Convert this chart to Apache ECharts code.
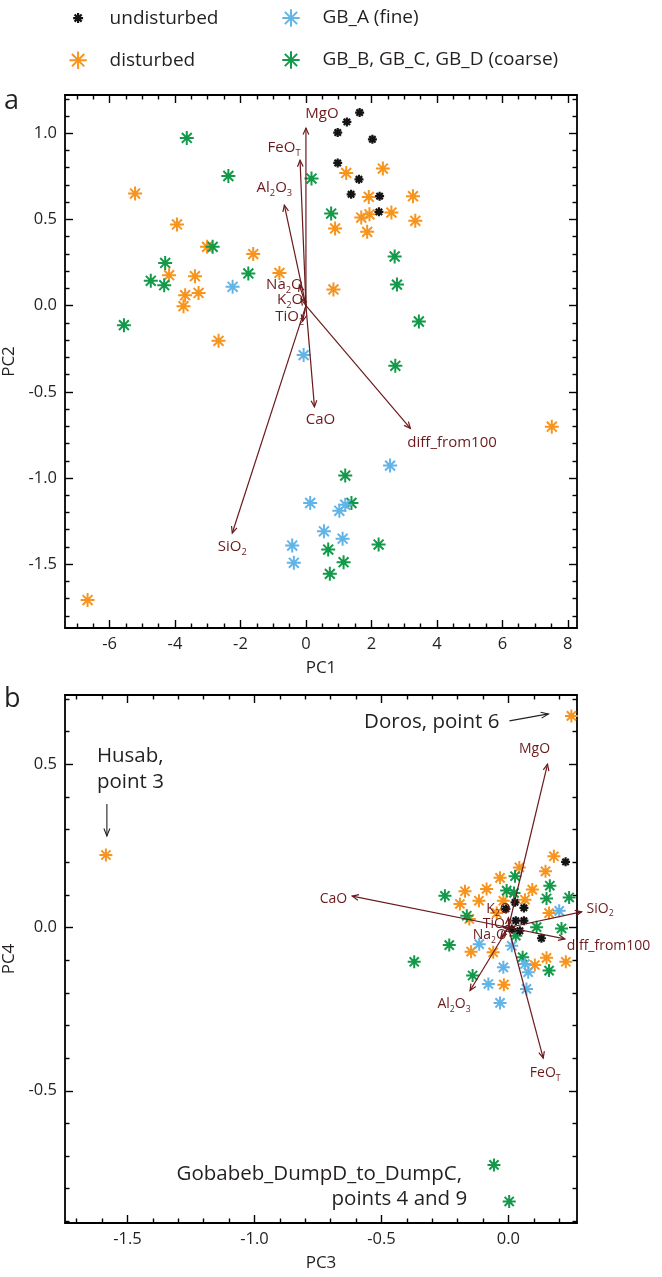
<!DOCTYPE html>
<html>
<head>
<meta charset="utf-8">
<script src="https://cdn.jsdelivr.net/npm/echarts@6.0.0/dist/echarts.min.js"></script>
<style>
html,body{margin:0;padding:0;background:#ffffff;}
#chart{width:662px;height:1277px;}
</style>
</head>
<body>
<div id="chart"></div>
<script>
// ---------------- DATA ----------------
// Panel a : PC1 (x) vs PC2 (y)
const aUndisturbed = [[0.97,1.004],[1.25,1.066],[1.64,1.12],[2.03,0.965],[0.97,0.828],[1.62,0.733],[1.38,0.646],[2.25,0.635],[2.23,0.544]];
const aDisturbed = [[-5.22,0.65],[-3.94,0.471],[-3.02,0.341],[-1.61,0.299],[-4.18,0.177],[-3.39,0.171],[-0.81,0.19],[-3.69,0.061],[-3.28,0.074],[-3.74,-0.003],[-2.67,-0.204],[1.23,0.77],[2.35,0.795],[1.92,0.631],[3.27,0.635],[1.69,0.511],[1.94,0.53],[2.61,0.54],[3.34,0.492],[0.89,0.448],[1.87,0.428],[0.84,0.094],[7.51,-0.702],[-6.67,-1.708]];
const aFine = [[-2.24,0.109],[-0.07,-0.287],[2.57,-0.928],[0.13,-1.145],[1.02,-1.19],[1.2,-1.155],[0.55,-1.309],[1.12,-1.352],[-0.42,-1.392],[-0.37,-1.492]];
const aCoarse = [[-3.64,0.973],[-2.37,0.752],[0.17,0.737],[0.77,0.534],[-2.85,0.341],[-4.3,0.248],[-4.74,0.144],[-4.33,0.119],[-1.76,0.187],[-5.56,-0.113],[2.71,0.285],[2.78,0.122],[3.45,-0.092],[2.73,-0.349],[1.2,-0.986],[1.39,-1.145],[0.68,-1.415],[1.15,-1.488],[0.73,-1.556],[2.22,-1.386]];

// Panel b : PC3 (x) vs PC4 (y)
const husabPoint3 = [-1.585, 0.222];
const dorosPoint6 = [0.248, 0.648];
const dumpPoint4 = [-0.057, -0.727];
const dumpPoint9 = [0.003, -0.839];
const bUndisturbed = [[0.225,0.201],[0.026,0.077],[0.061,0.06],[-0.01,0.057],[0.029,0.021],[0.061,0.021],[0.045,-0.01],[0.13,-0.033],[0.013,-0.005]];
const bDisturbed = [husabPoint3, dorosPoint6, [0.179,0.218],[0.043,0.184],[0.146,0.172],[-0.033,0.152],[-0.171,0.111],[-0.086,0.118],[0.094,0.116],[-0.191,0.072],[-0.116,0.082],[-0.02,0.082],[0.065,0.085],[0.16,0.044],[-0.154,0.026],[-0.046,0.044],[-0.147,-0.074],[-0.06,-0.076],[0.15,-0.093],[0.226,-0.105],[0.104,-0.115],[-0.018,-0.175]];
const bFine = [[0.2,0.051],[-0.115,-0.051],[0.013,-0.056],[-0.02,-0.122],[0.065,-0.112],[0.078,-0.137],[-0.079,-0.173],[0.071,-0.188],[-0.033,-0.231]];
const bCoarse = [dumpPoint4, dumpPoint9, [-0.25,0.097],[0.026,0.157],[-0.007,0.113],[0.022,0.106],[0.163,0.128],[0.15,0.089],[0.239,0.092],[0.209,-0.003],[-0.164,0.036],[0.111,0.001],[0.029,-0.025],[-0.233,-0.054],[-0.371,-0.105],[0.056,-0.091],[0.16,-0.132],[-0.141,-0.147]];

// Loadings (arrows from origin)
const loadingNames = ['MgO','FeO_T','Al2O3','Na2O','K2O','TiO2','CaO','diff_from100','SiO2'];
const loadingsA = [[0.0,1.03],[-0.18,0.843],[-0.66,0.583],[-0.2,0.12],[-0.15,0.04],[-0.1,-0.09],[0.26,-0.587],[3.19,-0.712],[-2.25,-1.319]];
const loadingsB = [[0.154,0.5],[0.137,-0.4],[-0.151,-0.193],[-0.03,-0.03],[0.0,0.03],[-0.02,0.0],[-0.615,0.096],[0.222,-0.035],[0.288,0.048]];

// Tick labels
const aXTicks = [-6,-4,-2,0,2,4,6,8];
const aYTicks = [-1.5,-1.0,-0.5,0.0,0.5,1.0];
const bXTicks = [-1.5,-1.0,-0.5,0.0];
const bYTicks = [-0.5,0.0,0.5];

const seriesNames = ['undisturbed','disturbed','GB_A (fine)','GB_B, GB_C, GB_D (coarse)'];

// ---------------- STYLE / LAYOUT ----------------
const FONT = '"Open Sans", "Noto Sans", sans-serif';
const TXT = '#231f20';
const MAROON = '#6b1a1c';
const COLORS = {'undisturbed':'#141414','disturbed':'#f7941d','GB_A (fine)':'#62b4e7','GB_B, GB_C, GB_D (coarse)':'#12994a'};
const STAR_BODY = 'M10 0L10 20M0 10L20 10M2.93 2.93L17.07 17.07M2.93 17.07L17.07 2.93';
const STAR = 'path://' + STAR_BODY;
const ICON = 'path://M-1.5 -1.5L-1.5 -1.5M21.5 21.5L21.5 21.5' + STAR_BODY;
const ICON_SMALL = 'path://M-10 -10L-10 -10M30 30L30 30' + STAR_BODY;

const rangeA = {x:[-7.36, 8.28], y:[-1.87, 1.222]};
const rangeB = {x:[-1.746, 0.27], y:[-0.905, 0.712]};

function steps(a, b, step, everyMajor) {
  const out = [];
  const n = Math.round((b - a) / step);
  for (let i = 0; i <= n; i++) {
    const v = +(a + i * step).toFixed(4);
    const k = Math.round(v / step);
    if (Math.abs(k % everyMajor) !== 0) out.push(v);
  }
  return out;
}
const aXMinor = steps(-7, 8, 0.5, 4);
const aYMinor = steps(-1.8, 1.2, 0.1, 5);
const bXMinor = steps(-1.7, 0.2, 0.1, 5);
const bYMinor = steps(-0.9, 0.7, 0.1, 5);

function axisSet(kind, gi, rng, majors, minors, fmt, name, nameGap) {
  const side = kind === 'x' ? ['bottom','top'] : ['left','right'];
  const lineStyle = {color:'#000', width:1.8};
  const tickStyle = {color:'#000', width:1.4};
  const mk = (pos, ticks, len, showLine, showLabels) => ({
    type:'value', gridIndex:gi, min:rng[0], max:rng[1], position:pos,
    splitLine:{show:false},
    axisLine:{show:showLine, onZero:false, lineStyle},
    axisTick:{show:true, inside:true, length:len, customValues:ticks, lineStyle:tickStyle},
    axisLabel: showLabels ? {show:true, customValues:majors, formatter:fmt, margin:8, fontSize:16.5, fontFamily:FONT, color:TXT} : {show:false}
  });
  const main = mk(side[0], majors, 8, true, true);
  main.name = name; main.nameLocation = 'middle'; main.nameGap = nameGap;
  main.nameTextStyle = {fontSize:17, fontFamily:FONT, color:TXT};
  return [main, mk(side[0], minors, 4.5, false, false), mk(side[1], majors, 8, true, false), mk(side[1], minors, 4.5, false, false)];
}

const fmtInt = v => String(Math.round(v));
const fmt1 = v => v.toFixed(1);

const xAxes = [].concat(
  axisSet('x', 0, rangeA.x, aXTicks, aXMinor, fmtInt, 'PC1', 32),
  axisSet('x', 1, rangeB.x, bXTicks, bXMinor, fmt1, 'PC3', 32)
);
const yAxes = [].concat(
  axisSet('y', 0, rangeA.y, aYTicks, aYMinor, fmt1, 'PC2', 40),
  axisSet('y', 1, rangeB.y, bYTicks, bYMinor, fmt1, 'PC4', 40)
);

function scatter(name, data, gi, size, bw) {
  const c = COLORS[name];
  return {
    name, type:'scatter', xAxisIndex:gi*4, yAxisIndex:gi*4, data,
    symbol:STAR, symbolSize:size, symbolKeepAspect:true,
    itemStyle:{color:c, borderColor:c, borderWidth:bw, opacity:1},
    emphasis:{disabled:true}, z:3, silent:true
  };
}

// label rich text for oxide names
const RICH_LABEL = {
  'MgO':'{n|MgO}', 'FeO_T':'{n|FeO}{s|T}', 'Al2O3':'{n|Al}{s|2}{n|O}{s|3}', 'Na2O':'{n|Na}{s|2}{n|O}',
  'K2O':'{n|K}{s|2}{n|O}', 'TiO2':'{n|TiO}{s|2}', 'CaO':'{n|CaO}', 'diff_from100':'{n|diff_from100}', 'SiO2':'{n|SiO}{s|2}'
};
function richStyles(fs) {
  return {
    n:{fontSize:fs, fontFamily:FONT, fill:MAROON, lineHeight:fs*1.35, verticalAlign:'middle'},
    s:{fontSize:fs*0.62, fontFamily:FONT, fill:MAROON, lineHeight:fs*0.62, verticalAlign:'bottom'}
  };
}
// pixel offsets of label from arrow tip: [dx, dy, align]
const labelOffA = {'MgO':[16,-14,'center'],'FeO_T':[-16,-13,'center'],'Al2O3':[-10,-17,'center'],'Na2O':[-15,0,'center'],'K2O':[-11,1,'center'],'TiO2':[-13,-4,'center'],'CaO':[6,13,'center'],'diff_from100':[-3,14,'left'],'SiO2':[0,14,'center']};
const labelOffB = {'MgO':[-13,-15,'center'],'FeO_T':[2,15,'center'],'Al2O3':[-16,14,'center'],'Na2O':[-11,-2,'center'],'K2O':[-10,-9,'center'],'TiO2':[-7,-3,'center'],'CaO':[-5,3,'right'],'diff_from100':[2,7,'left'],'SiO2':[5,-3,'left']};

function arrowHead(tip, from, len, ang) {
  const a = Math.atan2(tip[1]-from[1], tip[0]-from[0]);
  return [[tip[0]-len*Math.cos(a-ang), tip[1]-len*Math.sin(a-ang)], tip, [tip[0]-len*Math.cos(a+ang), tip[1]-len*Math.sin(a+ang)]];
}

function loadingSeries(gi, loads, offs, fs) {
  return {
    type:'custom', xAxisIndex:gi*4, yAxisIndex:gi*4, clip:false, z:6, silent:true,
    data: loads.map((d, i) => [d[0], d[1], i]),
    renderItem(params, api) {
      const i = api.value(2);
      const nm = loadingNames[i];
      const o = api.coord([0, 0]);
      const t = api.coord([api.value(0), api.value(1)]);
      const off = offs[nm];
      return {type:'group', children:[
        {type:'line', shape:{x1:o[0], y1:o[1], x2:t[0], y2:t[1]}, style:{stroke:MAROON, lineWidth:1.2}},
        {type:'polyline', shape:{points:arrowHead(t, o, 7, 0.42)}, style:{stroke:MAROON, lineWidth:1.2, fill:null}},
        {type:'text', x:t[0]+off[0], y:t[1]+off[1], style:{text:RICH_LABEL[nm], rich:richStyles(fs), align:off[2], verticalAlign:'middle', fill:MAROON, fontSize:fs, fontFamily:FONT}}
      ]};
    }
  };
}

const annotationAnchors = [husabPoint3, dorosPoint6, dumpPoint4, dumpPoint9];
const annotationSeries = {
  type:'custom', xAxisIndex:4, yAxisIndex:4, clip:false, z:7, silent:true,
  data: annotationAnchors.map((p, i) => [p[0], p[1], i]),
  renderItem(params, api) {
    const i = api.value(2);
    const p = api.coord([api.value(0), api.value(1)]);
    const ts = {fill:TXT, fontSize:20.5, fontFamily:FONT, verticalAlign:'middle'};
    const arr = (a, b) => [
      {type:'line', shape:{x1:a[0], y1:a[1], x2:b[0], y2:b[1]}, style:{stroke:'#222', lineWidth:1.1}},
      {type:'polyline', shape:{points:arrowHead(b, a, 8, 0.38)}, style:{stroke:'#222', lineWidth:1.1, fill:null}}
    ];
    let ch = [];
    if (i === 0) {
      ch = [
        {type:'text', x:p[0]-9, y:p[1]-99, style:Object.assign({text:'Husab,', align:'left'}, ts)},
        {type:'text', x:p[0]-9, y:p[1]-73, style:Object.assign({text:'point 3', align:'left'}, ts)}
      ].concat(arr([p[0]+1, p[1]-51], [p[0]+1, p[1]-19]));
    } else if (i === 1) {
      ch = [
        {type:'text', x:p[0]-72, y:p[1]+6, style:Object.assign({text:'Doros, point 6', align:'right'}, ts)}
      ].concat(arr([p[0]-62, p[1]+5], [p[0]-23, p[1]-2]));
    } else if (i === 2) {
      ch = [{type:'text', x:p[0]-32, y:p[1]+9, style:Object.assign({text:'Gobabeb_DumpD_to_DumpC,', align:'right'}, ts)}];
    } else {
      ch = [{type:'text', x:p[0]-42, y:p[1]-2, style:Object.assign({text:'points 4 and 9', align:'right'}, ts)}];
    }
    return {type:'group', children:ch};
  }
};

function legendItem(name, small) {
  const c = COLORS[name];
  return {name, icon: small ? ICON_SMALL : ICON, itemStyle:{color:c, borderColor:c, borderWidth: small ? 2.2 : 2}};
}
const legendText = {fontSize:19, fontFamily:FONT, color:TXT, lineHeight:20};

const option = {
  animation:false,
  backgroundColor:'#ffffff',
  grid:[
    {left:65, top:95, width:512, height:533, outerBoundsMode:'none', containLabel:false},
    {left:65, top:695, width:512, height:528, outerBoundsMode:'none', containLabel:false}
  ],
  legend:[
    {left:62, top:2, orient:'vertical', itemWidth:53, itemHeight:20, itemGap:20, selectedMode:false, textStyle:legendText,
     data:[legendItem(seriesNames[0], true), legendItem(seriesNames[1], false)]},
    {left:275, top:2, orient:'vertical', itemWidth:53, itemHeight:20, itemGap:20, selectedMode:false, textStyle:legendText,
     data:[legendItem(seriesNames[2], false), legendItem(seriesNames[3], false)]}
  ],
  graphic:[
    {type:'text', left:4, top:88, style:{text:'a', fontSize:27, fontFamily:FONT, fill:TXT}},
    {type:'text', left:4, top:686, style:{text:'b', fontSize:27, fontFamily:FONT, fill:TXT}}
  ],
  xAxis:xAxes,
  yAxis:yAxes,
  series:[
    scatter(seriesNames[1], aDisturbed, 0, 14, 2),
    scatter(seriesNames[3], aCoarse, 0, 14, 2),
    scatter(seriesNames[2], aFine, 0, 14, 2),
    scatter(seriesNames[0], aUndisturbed, 0, 9, 2.2),
    scatter(seriesNames[1], bDisturbed, 1, 13, 2),
    scatter(seriesNames[3], bCoarse, 1, 13, 2),
    scatter(seriesNames[2], bFine, 1, 13, 2),
    scatter(seriesNames[0], bUndisturbed, 1, 9, 2.2),
    loadingSeries(0, loadingsA, labelOffA, 15),
    loadingSeries(1, loadingsB, labelOffB, 14),
    annotationSeries
  ]
};

const chart = echarts.init(document.getElementById('chart'), null, {renderer:'canvas'});
chart.setOption(option);
</script>
</body>
</html>
